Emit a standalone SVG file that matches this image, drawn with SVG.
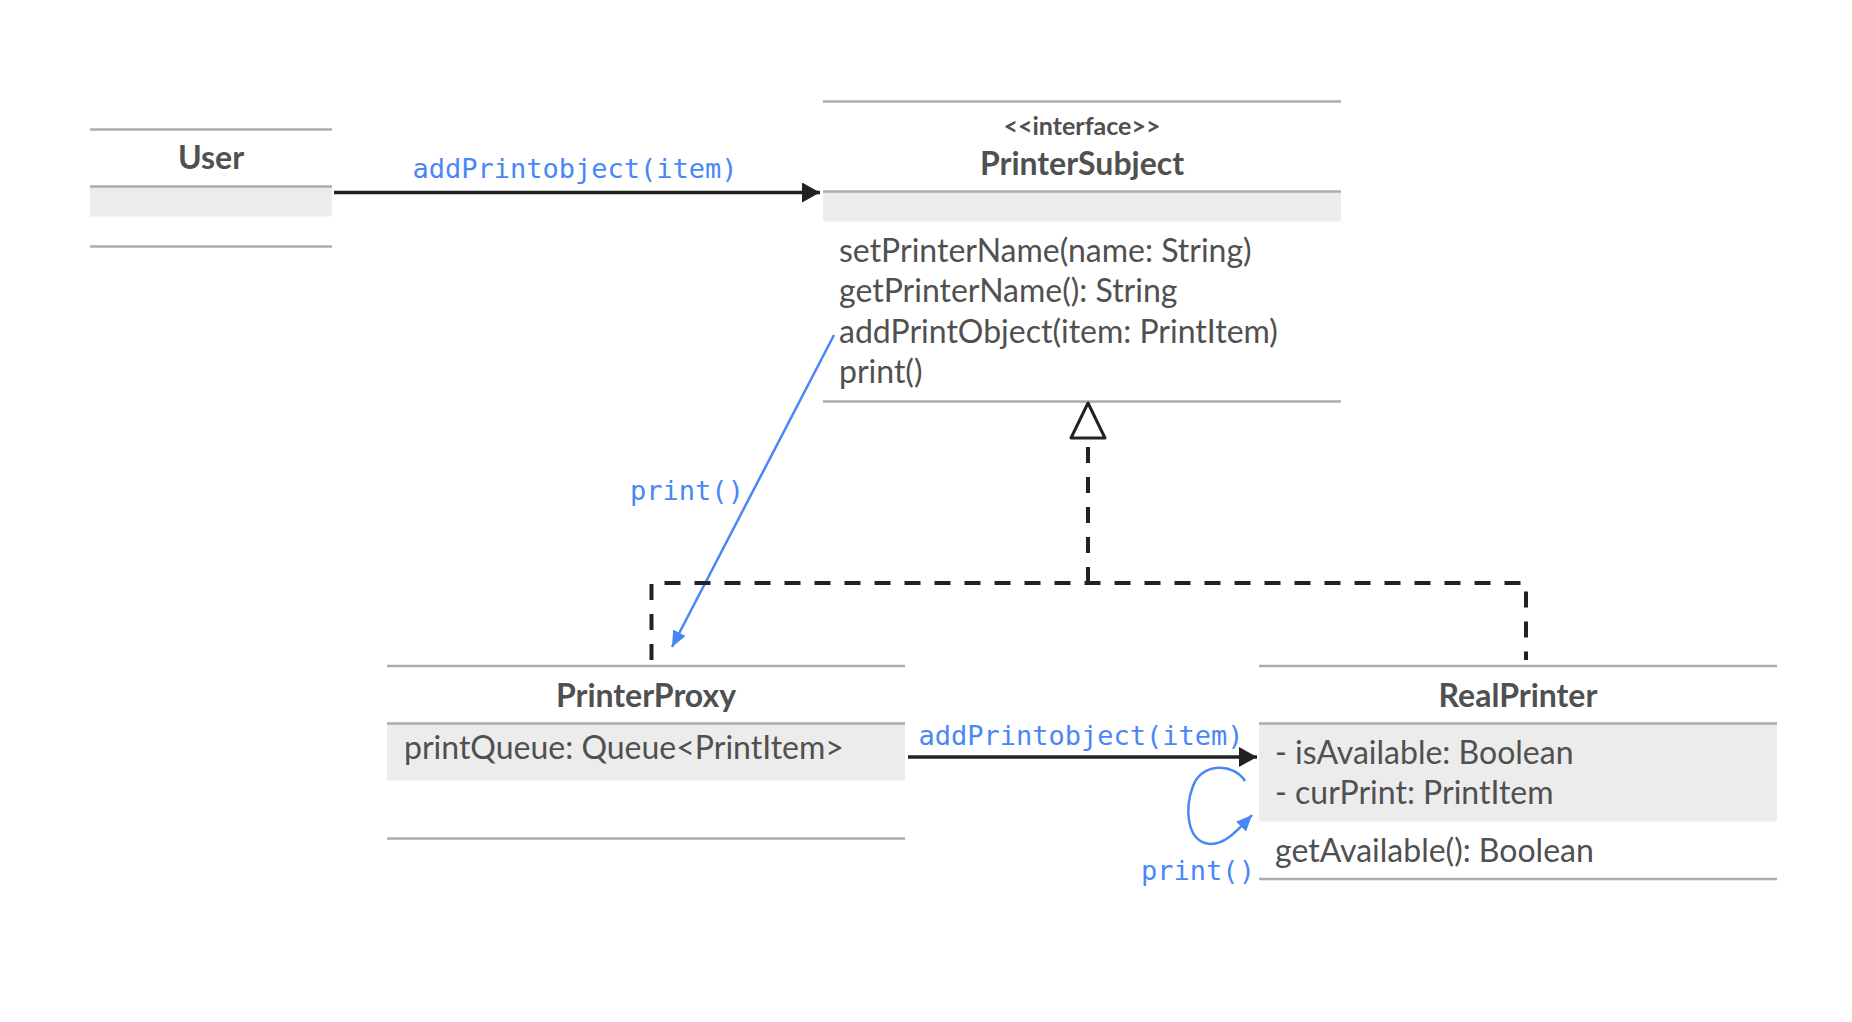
<svg xmlns="http://www.w3.org/2000/svg" width="1852" height="1022" viewBox="0 0 1852 1022">
<style>
.ln{stroke:#adadad;stroke-width:2.5;fill:none}
.fl{fill:#ececec}
.t{font-family:Lato,'Liberation Sans',sans-serif;fill:#505050;font-size:32px}
.b{font-weight:bold}
.c{text-anchor:middle}
.hw{font-family:'DejaVu Sans Mono','Liberation Mono',monospace;fill:#4a87f5;font-size:27px;text-anchor:middle}
.dash{stroke:#222;stroke-width:4;stroke-dasharray:16 14;fill:none}
.blk{stroke:#222;stroke-width:3.5;fill:none}
.blu{stroke:#4a87f5;stroke-width:2.5;fill:none}
</style>
<defs>
<marker id="ab" markerUnits="userSpaceOnUse" markerWidth="20" markerHeight="22" refX="18" refY="10" orient="auto">
<path d="M0,0 L18,10 L0,20 Z" fill="#222"/>
</marker>
<marker id="au" markerUnits="userSpaceOnUse" markerWidth="18" markerHeight="16" refX="16" refY="7" orient="auto">
<path d="M0,0 L16,7 L0,14 Z" fill="#4a87f5"/>
</marker>
</defs>
<rect width="1852" height="1022" fill="#fff"/>

<g id="User">
<rect class="fl" x="90" y="186.5" width="242" height="30"/>
<line class="ln" x1="90" y1="129.5" x2="332" y2="129.5"/>
<line class="ln" x1="90" y1="186.5" x2="332" y2="186.5"/>
<line class="ln" x1="90" y1="246.5" x2="332" y2="246.5"/>
<text class="t b c" x="211" y="169">User</text>
</g>

<g id="PrinterSubject">
<rect class="fl" x="823" y="191.5" width="518" height="30"/>
<line class="ln" x1="823" y1="101.5" x2="1341" y2="101.5"/>
<line class="ln" x1="823" y1="191.5" x2="1341" y2="191.5"/>
<line class="ln" x1="823" y1="401.5" x2="1341" y2="401.5"/>
<text class="t b c" x="1082" y="135" style="font-size:25px">&lt;&lt;interface&gt;&gt;</text>
<text class="t b c" x="1082" y="175">PrinterSubject</text>
<text class="t" x="839" y="262">setPrinterName(name: String)</text>
<text class="t" x="839" y="302">getPrinterName(): String</text>
<text class="t" x="839" y="343">addPrintObject(item: PrintItem)</text>
<text class="t" x="839" y="383">print()</text>
</g>

<g id="PrinterProxy">
<rect class="fl" x="387" y="723.5" width="518" height="57"/>
<line class="ln" x1="387" y1="666" x2="905" y2="666"/>
<line class="ln" x1="387" y1="723.5" x2="905" y2="723.5"/>
<line class="ln" x1="387" y1="838.5" x2="905" y2="838.5"/>
<text class="t b c" x="646" y="707">PrinterProxy</text>
<text class="t" x="404" y="759">printQueue: Queue&lt;PrintItem&gt;</text>
</g>

<g id="RealPrinter">
<rect class="fl" x="1259" y="723.5" width="518" height="98"/>
<line class="ln" x1="1259" y1="666" x2="1777" y2="666"/>
<line class="ln" x1="1259" y1="723.5" x2="1777" y2="723.5"/>
<line class="ln" x1="1259" y1="879" x2="1777" y2="879"/>
<text class="t b c" x="1518" y="707">RealPrinter</text>
<text class="t" x="1275" y="764">- isAvailable: Boolean</text>
<text class="t" x="1275" y="804">- curPrint: PrintItem</text>
<text class="t" x="1275" y="862">getAvailable(): Boolean</text>
</g>

<g id="connectors">
<line class="blk" x1="334" y1="192.5" x2="820" y2="192.5" marker-end="url(#ab)"/>
<text class="hw" x="575" y="178">addPrintobject(item)</text>

<line class="blu" x1="834" y1="335" x2="672" y2="647" marker-end="url(#au)"/>
<text class="hw" x="687" y="500">print()</text>

<path class="dash" d="M651.5,660 V583 H1526 V660"/>
<path class="dash" d="M1088,583 V440"/>
<polygon points="1088,403 1071,438 1105,438" fill="#fff" stroke="#222" stroke-width="3" stroke-linejoin="round"/>

<line class="blk" x1="908" y1="757" x2="1257" y2="757" marker-end="url(#ab)"/>
<text class="hw" x="1081" y="745">addPrintobject(item)</text>

<path class="blu" d="M1245,781 C1234,763 1202,762 1193,786 C1184,810 1188,838 1205,843 C1222,848 1236,832 1252,815" marker-end="url(#au)"/>
<text class="hw" x="1198" y="880">print()</text>
</g>
</svg>
